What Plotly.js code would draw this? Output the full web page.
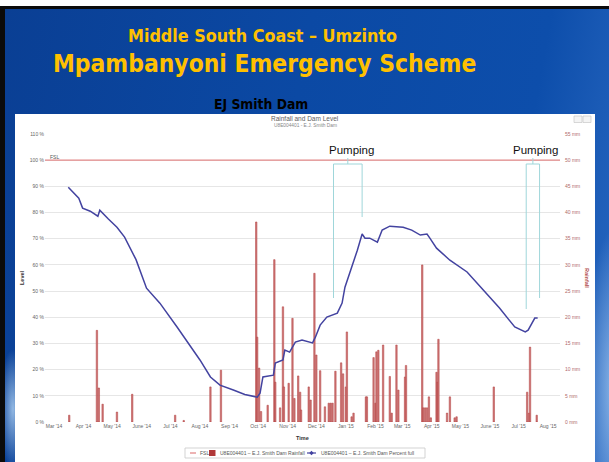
<!DOCTYPE html>
<html>
<head>
<meta charset="utf-8">
<script src="https://cdn.plot.ly/plotly-3.0.1.min.js"></script>
<style>
  html, body { margin:0; padding:0; background:#ffffff; width:609px; height:462px; overflow:hidden; }
  #slide { position:absolute; left:0; top:6px; width:609px; height:456px; box-sizing:border-box;
    border-top:3px solid #0b0b0b; border-left:5px solid #0b0b0b;
    background:
      radial-gradient(ellipse 14px 60px at 8px 400px, rgba(170,205,240,0.85), rgba(170,205,240,0) 100%),
      radial-gradient(ellipse 30px 160px at 609px 380px, rgba(150,190,235,0.9), rgba(150,190,235,0) 100%),
      linear-gradient(100deg, #0a3f94 0%, #0b49a4 45%, #0d4eab 80%, #2a69c2 100%);
  }
  #panel { position:absolute; left:15px; top:114px; width:580px; height:348px; background:#ffffff; }
  #chart { position:absolute; left:0; top:0; width:609px; height:462px; }
</style>
</head>
<body>
<div id="slide"></div>
<div id="panel"></div>
<div id="chart"></div>
<script>
// ---------------- DATA ----------------
const levelDates = [
  '2014-03-16','2014-03-27','2014-03-31','2014-04-08','2014-04-16','2014-04-18','2014-04-27',
  '2014-05-06','2014-05-14','2014-05-26','2014-06-06','2014-06-20','2014-07-08','2014-07-22',
  '2014-08-01','2014-08-12','2014-08-22','2014-09-05','2014-09-17','2014-09-30','2014-10-03',
  '2014-10-06','2014-10-17','2014-10-19','2014-10-27','2014-10-29','2014-11-03','2014-11-09',
  '2014-11-16','2014-11-27','2014-11-30','2014-12-05','2014-12-12','2014-12-23','2014-12-28',
  '2014-12-31','2015-01-07','2015-01-13','2015-01-18','2015-01-21','2015-01-26','2015-02-03',
  '2015-02-08','2015-02-16','2015-03-02','2015-03-11','2015-03-20','2015-03-27','2015-03-30',
  '2015-04-06','2015-04-20','2015-05-08','2015-05-25','2015-06-11','2015-06-27','2015-07-08',
  '2015-07-11','2015-07-15','2015-07-18','2015-07-21'
];
const levelPercent = [
  89.7,85.5,81.7,80.5,78.6,80.9,77.5,
  74.4,70.6,62.0,51.1,45.4,36.3,29.0,
  23.7,17.2,14.1,12.2,10.5,9.5,11.0,
  17.2,17.9,22.5,23.7,27.5,26.7,30.5,
  31.3,30.2,32.4,37.0,40.1,41.6,45.4,
  51.5,58.8,65.6,71.8,70.2,70.2,68.7,
  73.3,74.8,74.4,73.3,71.4,71.8,70.2,
  66.4,61.8,57.3,50.4,43.5,36.3,34.4,
  35.1,37.8,39.7,39.7
];
const rainDates = [
  '2014-03-17','2014-04-15','2014-04-17','2014-04-21','2014-05-06','2014-05-22','2014-07-06',
  '2014-07-15','2014-08-12','2014-08-23','2014-09-29','2014-09-30','2014-10-02','2014-10-04',
  '2014-10-11','2014-10-18','2014-10-19','2014-10-24','2014-10-27','2014-10-28','2014-11-02',
  '2014-11-06','2014-11-08','2014-11-12','2014-11-14','2014-11-15','2014-11-23','2014-11-25',
  '2014-11-29','2014-12-01','2014-12-05','2014-12-10','2014-12-14','2014-12-16','2014-12-18',
  '2014-12-21','2014-12-27','2014-12-29','2015-01-01','2015-01-02','2015-01-07','2015-01-09',
  '2015-01-22','2015-01-23','2015-01-30','2015-02-01','2015-02-02','2015-02-04','2015-02-09',
  '2015-02-16','2015-02-18','2015-02-23','2015-02-25','2015-03-04','2015-03-05','2015-03-22',
  '2015-03-23','2015-03-25','2015-03-27','2015-03-29','2015-03-31','2015-04-06','2015-04-07',
  '2015-04-08','2015-04-17','2015-04-20','2015-04-25','2015-04-27','2015-06-05','2015-07-10',
  '2015-07-12','2015-07-13','2015-07-20'
];
const rainMm = [
  1.3,17.5,6.5,3.4,1.9,5.3,1.3,
  0.3,6.7,9.9,38.2,16.2,10.3,2.0,
  3.2,31.0,7.6,2.7,22.0,6.7,7.4,
  19.8,4.5,8.8,5.7,2.3,6.7,4.2,
  28.4,12.8,9.8,2.9,3.6,3.6,3.6,
  9.7,11.3,9.2,6.7,17.2,1.0,1.7,
  4.8,4.8,12.3,3.6,13.4,13.7,14.7,
  8.7,1.7,14.7,6.1,8.6,10.8,30.0,
  2.7,2.7,2.7,4.8,0.8,9.5,7.6,
  15.8,1.7,4.8,0.8,1.0,6.7,5.7,
  1.7,14.3,1.3
];
const FSL = 100;
const monthTicks = ['2014-03-01','2014-04-01','2014-05-01','2014-06-01','2014-07-01','2014-08-01',
  '2014-09-01','2014-10-01','2014-11-01','2014-12-01','2015-01-01','2015-02-01','2015-03-01',
  '2015-04-01','2015-05-01','2015-06-01','2015-07-01','2015-08-01'];
const monthLabels = ["Mar '14","Apr '14","May '14","June '14","Jul '14","Aug '14","Sep '14",
  "Oct '14","Nov '14","Dec '14","Jan '15","Feb '15","Mar '15","Apr '15","May '15","June '15",
  "Jul '15","Aug '15"];
const levelTicks = [0,10,20,30,40,50,60,70,80,90,100,110];
const levelTickLabels = ['0 %','10 %','20 %','30 %','40 %','50 %','60 %','70 %','80 %','90 %','100 %','110 %'];
const rainTicks = [0,5,10,15,20,25,30,35,40,45,50,55];
const rainTickLabels = ['0 mm','5 mm','10 mm','15 mm','20 mm','25 mm','30 mm','35 mm','40 mm','45 mm','50 mm','55 mm'];
const pumpingPeriods = [['2014-12-19','2015-01-18'], ['2015-07-09','2015-07-23']];
const seriesNames = ['FSL', 'U8E004401 – E.J. Smith Dam Rainfall', 'U8E004401 – E.J. Smith Dam Percent full'];

// ---------------- LAYOUT HELPERS ----------------
const PL = 45, PR = 560, PT = 134, PB = 422;
const fx = p => (p - PL) / (PR - PL);
const fy = p => (PB - p) / (PB - PT);
const FONT = 'Liberation Sans, Arial, sans-serif';
const HEAD = 'DejaVu Sans Condensed, DejaVu Sans, sans-serif';
const LEVEL_COLOR = '#4343a0';
const FSL_COLOR = '#e48a8a';
const PUMP_COLOR = '#9fd6da';
const DAY = 86400000;

function ann(text, x, y, size, color, opts) {
  return Object.assign({
    text: text, xref: 'paper', yref: 'paper', x: fx(x), y: fy(y),
    showarrow: false, xanchor: 'center', yanchor: 'middle',
    font: { family: FONT, size: size, color: color }
  }, opts || {});
}

const annotations = [
  ann('Middle South Coast – Umzinto', 262, 35, 17.8, '#ffc000', { font: { family: HEAD, size: 17.8, color: '#ffc000', weight: 'bold' } }),
  ann('Mpambanyoni Emergency Scheme', 264, 63, 24.4, '#ffc000', { font: { family: HEAD, size: 24.4, color: '#ffc000', weight: 'bold' } }),
  ann('EJ Smith Dam', 261, 103.5, 13.8, '#000000', { font: { family: HEAD, size: 13.8, color: '#000000', weight: 'bold' } }),
  ann('Rainfall and Dam Level', 305, 118.5, 6.5, '#606060'),
  ann('U8E004401 - E.J. Smith Dam', 305, 125.5, 4.8, '#888888'),
  ann('FSL', 48, 157, 5, '#555555', { xanchor: 'left' }),
  ann('Pumping', 351, 150, 11.5, '#111111'),
  ann('Pumping', 535, 150, 11.5, '#111111'),
  ann('Level', 22, 278, 5.5, '#333333', { textangle: -90, font: { family: FONT, size: 5.5, color: '#333333', weight: 'bold' } }),
  ann('Rainfall', 587, 278, 5.5, '#b04848', { textangle: 90, font: { family: FONT, size: 5.5, color: '#b04848', weight: 'bold' } }),
  ann('Time', 302, 438, 5.5, '#333333', { font: { family: FONT, size: 5.5, color: '#333333', weight: 'bold' } }),
  ann(seriesNames[0], 197.5, 453, 5, '#555555', { xanchor: 'left' }),
  ann(seriesNames[1], 218, 453, 5, '#555555', { xanchor: 'left' }),
  ann(seriesNames[2], 319, 453, 5, '#555555', { xanchor: 'left' })
];

const shapes = [
  { type: 'line', xref: 'paper', x0: 0, x1: 1, yref: 'y2', y0: FSL, y1: FSL, line: { color: FSL_COLOR, width: 1.2 } },
  // legend box
  { type: 'rect', xref: 'paper', yref: 'paper', x0: fx(185), x1: fx(425), y0: fy(458), y1: fy(448), line: { color: '#c8c8c8', width: 0.8 }, fillcolor: 'rgba(255,255,255,1)' },
  { type: 'line', xref: 'paper', yref: 'paper', x0: fx(190), x1: fx(196), y0: fy(453), y1: fy(453), line: { color: FSL_COLOR, width: 1.3 } },
  { type: 'rect', xref: 'paper', yref: 'paper', x0: fx(209), x1: fx(215.5), y0: fy(456), y1: fy(450), line: { width: 0 }, fillcolor: '#b03838' },
  { type: 'line', xref: 'paper', yref: 'paper', x0: fx(307), x1: fx(316), y0: fy(453), y1: fy(453), line: { color: LEVEL_COLOR, width: 1.2 } },
  { type: 'path', xref: 'paper', yref: 'paper',
    path: `M${fx(311.5)},${fy(450.8)} L${fx(313.7)},${fy(453)} L${fx(311.5)},${fy(455.2)} L${fx(309.3)},${fy(453)} Z`,
    line: { width: 0 }, fillcolor: LEVEL_COLOR },
  // export buttons
  { type: 'rect', xref: 'paper', yref: 'paper', x0: fx(574), x1: fx(582), y0: fy(122.5), y1: fy(116), line: { color: '#c0c0c0', width: 0.6 }, fillcolor: '#f4f4f4' },
  { type: 'rect', xref: 'paper', yref: 'paper', x0: fx(583), x1: fx(591), y0: fy(122.5), y1: fy(116), line: { color: '#c0c0c0', width: 0.6 }, fillcolor: '#f4f4f4' }
];

// pumping brackets (x in data dates, y in pixels)
const pumpBottoms = [[298, 217], [309, 298]];
pumpingPeriods.forEach((p, i) => {
  const s = new Date(p[0]).getTime(), e = new Date(p[1]).getTime();
  const mid = new Date((s + e) / 2).toISOString();
  const L = { color: PUMP_COLOR, width: 1 };
  shapes.push({ type: 'line', xref: 'x', yref: 'paper', x0: p[0], x1: p[1], y0: fy(164), y1: fy(164), line: L });
  shapes.push({ type: 'line', xref: 'x', yref: 'paper', x0: p[0], x1: p[0], y0: fy(164), y1: fy(pumpBottoms[i][0]), line: L });
  shapes.push({ type: 'line', xref: 'x', yref: 'paper', x0: p[1], x1: p[1], y0: fy(164), y1: fy(pumpBottoms[i][1]), line: L });
  shapes.push({ type: 'line', xref: 'x', yref: 'paper', x0: mid, x1: mid, y0: fy(158), y1: fy(164), line: L });
});

const traces = [
  {
    type: 'bar', name: seriesNames[1], x: rainDates, y: rainMm, yaxis: 'y',
    width: 1.5 * DAY,
    marker: { color: '#cf7a7a', line: { color: '#b03a3a', width: 0.5 } },
    hoverinfo: 'x+y'
  },
  {
    type: 'scatter', mode: 'lines', name: seriesNames[2], x: levelDates, y: levelPercent, yaxis: 'y2',
    line: { color: LEVEL_COLOR, width: 1.5 }
  }
];

const layout = {
  width: 609, height: 462,
  margin: { l: PL, r: 609 - PR, t: PT, b: 462 - PB, pad: 0 },
  paper_bgcolor: 'rgba(0,0,0,0)', plot_bgcolor: 'rgba(0,0,0,0)',
  showlegend: false,
  bargap: 0,
  font: { family: FONT, size: 5, color: '#666666' },
  xaxis: {
    type: 'date', range: ['2014-02-19 14:00', '2015-08-13 10:00'],
    tickmode: 'array', tickvals: monthTicks, ticktext: monthLabels, tickangle: 0,
    showgrid: false, zeroline: false, showline: false, ticks: '',
    tickfont: { family: FONT, size: 5, color: '#666666' }
  },
  yaxis: {
    side: 'right', range: [0, 55], tickmode: 'array', tickvals: rainTicks, ticktext: rainTickLabels,
    showgrid: true, gridcolor: '#e6e6e6', gridwidth: 1, zeroline: false, showline: false, ticks: '',
    ticklabelstandoff: 4,
    tickfont: { family: FONT, size: 5, color: '#b06a6a' }
  },
  yaxis2: {
    overlaying: 'y', side: 'left', range: [0, 110], tickmode: 'array', tickvals: levelTicks, ticktext: levelTickLabels,
    showgrid: false, zeroline: false, showline: false, ticks: '',
    tickfont: { family: FONT, size: 5, color: '#666666' }
  },
  annotations: annotations,
  shapes: shapes
};

Plotly.newPlot('chart', traces, layout, { displayModeBar: false, staticPlot: true });
</script>
</body>
</html>
